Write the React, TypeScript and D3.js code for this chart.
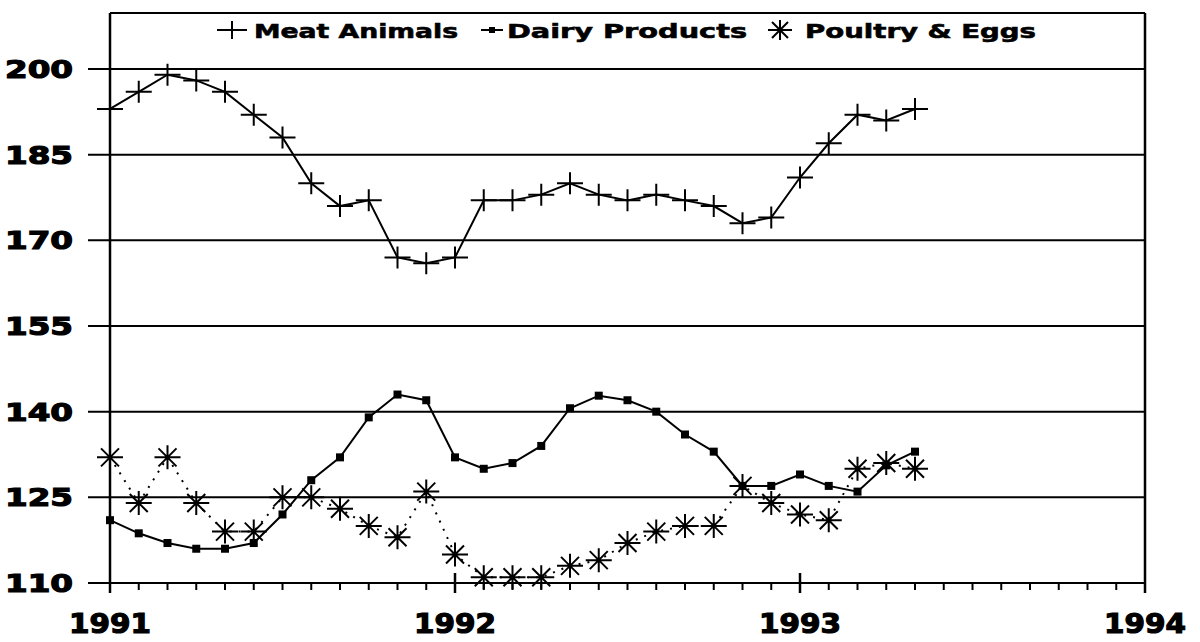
import React, { useEffect, useRef } from 'react';
import * as d3 from 'd3';

// monthly index, Jan 1991 = 0
const monthIdx = [
  0, 1, 2, 3, 4, 5, 6, 7, 8, 9, 10, 11,
  12, 13, 14, 15, 16, 17, 18, 19, 20, 21, 22, 23,
  24, 25, 26, 27, 28,
];
const meatAnimals = [
  193, 196, 199, 198, 196, 192, 188, 180, 176, 177, 167, 166,
  167, 177, 177, 178, 180, 178, 177, 178, 177, 176, 173, 174,
  181, 187, 192, 191, 193,
];
const dairyProducts = [
  121, 118.7, 117, 116, 116, 117, 122, 128, 132, 139, 143, 142,
  132, 130, 131, 134, 140.6, 142.8, 142, 140, 136, 133, 127, 127,
  129, 127, 126, 130.6, 133,
];
const poultryEggs = [
  132, 124, 132, 124, 119, 119, 125, 125, 123, 120, 118, 126,
  115, 111, 111, 111, 113, 114, 117, 119, 120, 120, 127, 124,
  122, 121, 130, 131, 130,
];
const yTicks = [110, 125, 140, 155, 170, 185, 200];
const yearLabels = ['1991', '1992', '1993', '1994'];
const legendNames = ['Meat Animals', 'Dairy Products', 'Poultry & Eggs'];

const FONT = '"DejaVu Sans", Arial, sans-serif';

const Chart = () => {
  const svgRef = useRef<SVGSVGElement>(null);

  useEffect(() => {
    const svg = d3.select(svgRef.current);
    svg.selectAll('*').remove();

    const left = 110, right = 1145, top = 13;
    const x = d3.scaleLinear().domain([0, 36]).range([left, right]);
    const y = d3.scaleLinear().domain([110, 200]).range([583, 69]);
    const bottom = y(110);

    const g = svg.append('g').attr('stroke', '#000').attr('fill', 'none');

    // grid lines + outward y ticks
    g.selectAll('.grid')
      .data(yTicks)
      .enter()
      .append('line')
      .attr('x1', left - 22)
      .attr('x2', right)
      .attr('y1', d => y(d))
      .attr('y2', d => y(d))
      .attr('stroke-width', 2);

    // frame
    g.append('line').attr('x1', left).attr('x2', right).attr('y1', top).attr('y2', top).attr('stroke-width', 2);
    g.append('line').attr('x1', right).attr('x2', right).attr('y1', top).attr('y2', bottom + 10).attr('stroke-width', 2.5);
    g.append('line').attr('x1', left).attr('x2', left).attr('y1', top).attr('y2', bottom + 10).attr('stroke-width', 2.5);

    // month ticks
    g.selectAll('.minor')
      .data(d3.range(1, 36).filter(m => m % 12 !== 0))
      .enter()
      .append('line')
      .attr('x1', d => x(d))
      .attr('x2', d => x(d))
      .attr('y1', bottom)
      .attr('y2', bottom + 7)
      .attr('stroke-width', 2);

    // year ticks
    g.selectAll('.major')
      .data([12, 24])
      .enter()
      .append('line')
      .attr('x1', d => x(d))
      .attr('x2', d => x(d))
      .attr('y1', bottom - 10)
      .attr('y2', bottom + 10)
      .attr('stroke-width', 2.5);

    // y labels
    svg.selectAll('.ylab')
      .data(yTicks)
      .enter()
      .append('text')
      .attr('x', 73)
      .attr('y', d => y(d) + 9)
      .attr('text-anchor', 'end')
      .attr('font-family', FONT)
      .attr('font-weight', 'bold')
      .attr('font-size', 25)
      .attr('stroke', '#000')
      .attr('stroke-width', 1.2)
      .attr('textLength', 68)
      .attr('lengthAdjust', 'spacingAndGlyphs')
      .text(d => d);

    // year labels
    svg.selectAll('.xlab')
      .data(yearLabels)
      .enter()
      .append('text')
      .attr('x', (d, i) => x(i * 12) - 41)
      .attr('y', 633)
      .attr('font-family', FONT)
      .attr('font-weight', 'bold')
      .attr('font-size', 27)
      .attr('stroke', '#000')
      .attr('stroke-width', 1.2)
      .attr('textLength', 82)
      .attr('lengthAdjust', 'spacingAndGlyphs')
      .text(d => d);

    const line = (vals: number[]) =>
      d3.line<number>()
        .x(d => x(monthIdx[d]))
        .y(d => y(vals[d]))(vals.map((_, i) => i));

    // series lines
    g.append('path').attr('d', line(poultryEggs)).attr('stroke-width', 2).attr('stroke-dasharray', '2,7');
    g.append('path').attr('d', line(dairyProducts)).attr('stroke-width', 2);
    g.append('path').attr('d', line(meatAnimals)).attr('stroke-width', 2);

    const plusPath = 'M-13,0H13M0,-11V11';
    const starPath = 'M-13,0H13M0,-12V12M-9,-9L9,9M-9,9L9,-9';

    g.selectAll('.meat')
      .data(meatAnimals)
      .enter()
      .append('path')
      .attr('transform', (d, i) => `translate(${x(monthIdx[i])},${y(d)})`)
      .attr('d', plusPath)
      .attr('stroke-width', 2);

    svg.selectAll('.dairy')
      .data(dairyProducts)
      .enter()
      .append('rect')
      .attr('x', (d, i) => x(monthIdx[i]) - 4)
      .attr('y', d => y(d) - 4)
      .attr('width', 8)
      .attr('height', 8)
      .attr('fill', '#000');

    g.selectAll('.poultry')
      .data(poultryEggs)
      .enter()
      .append('path')
      .attr('transform', (d, i) => `translate(${x(monthIdx[i])},${y(d)})`)
      .attr('d', starPath)
      .attr('stroke-width', 2);

    // legend
    const ly = 30;
    g.append('path').attr('transform', `translate(232,${ly})`).attr('d', 'M-15,0H15M0,-9V9').attr('stroke-width', 2);
    g.append('line').attr('x1', 481).attr('x2', 503).attr('y1', ly).attr('y2', ly).attr('stroke-width', 2);
    svg.append('rect').attr('x', 489).attr('y', ly - 3).attr('width', 6).attr('height', 6).attr('fill', '#000');
    g.append('path').attr('transform', `translate(780,${ly})`).attr('d', 'M-12,0H12M0,-10V10M-8,-8L8,8M-8,8L8,-8').attr('stroke-width', 2);

    const legendX = [254, 507, 805];
    const legendW = [204, 240, 231];
    svg.selectAll('.leg')
      .data(legendNames)
      .enter()
      .append('text')
      .attr('x', (d, i) => legendX[i])
      .attr('y', 38)
      .attr('font-family', FONT)
      .attr('font-weight', 'bold')
      .attr('font-size', 20)
      .attr('stroke', '#000')
      .attr('stroke-width', 0.6)
      .attr('textLength', (d, i) => legendW[i])
      .attr('lengthAdjust', 'spacingAndGlyphs')
      .text(d => d);
  }, []);

  return (
    <svg
      ref={svgRef}
      width="1200"
      height="642"
      style={{ position: 'absolute', left: 0, top: 0, background: '#fff' }}
    />
  );
};

export default function App() {
  return <Chart />;
}
